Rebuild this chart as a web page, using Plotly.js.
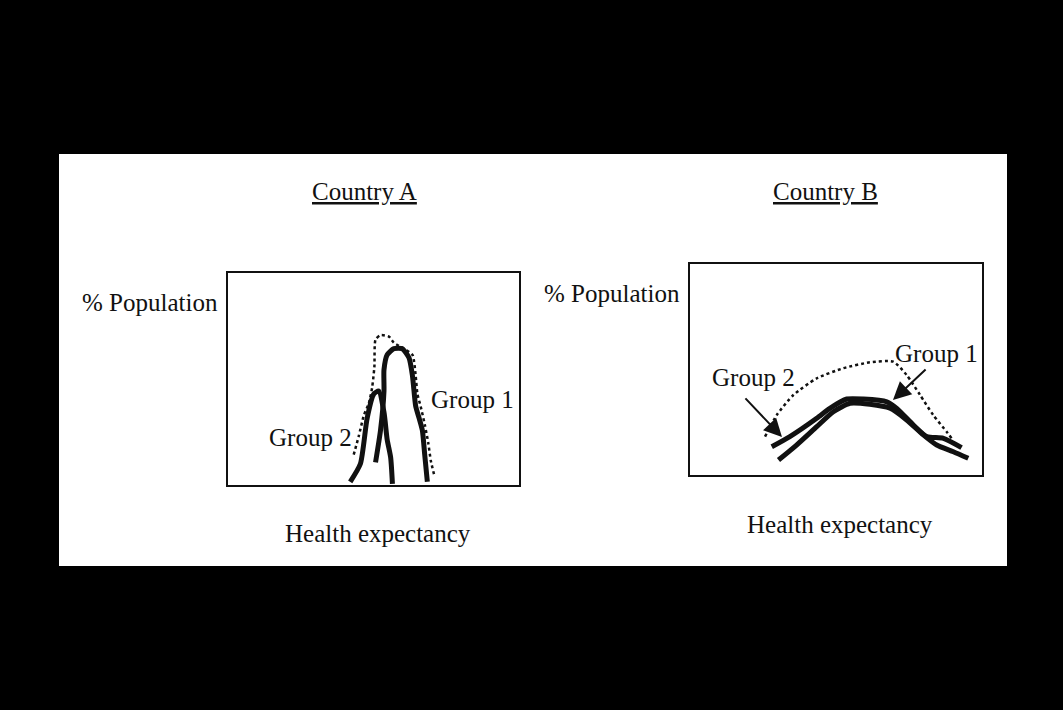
<!DOCTYPE html>
<html>
<head>
<meta charset="utf-8">
<script src="https://cdn.plot.ly/plotly-3.0.1.min.js"></script>
<style>html,body{margin:0;padding:0;background:#000;}#chart{width:1063px;height:710px;}</style>
</head>
<body>
<div id="chart"></div>
<script>
// Country A (x: health expectancy %, y: % population)
var aTotalX = [43.2, 44.9, 46.7, 48.4, 49.5, 50.3, 50.7, 52.4, 55.3, 57.0, 60.5, 63.4, 64.5, 65.1, 66.2, 67.6, 68.8, 69.7, 70.9];
var aTotalY = [14.3, 22.9, 32.9, 38.6, 45.7, 55.7, 68.6, 70.7, 70.0, 67.1, 64.3, 61.4, 51.4, 42.9, 37.1, 28.6, 20.0, 11.4, 4.5];
var aGroup1X = [50.7, 52.4, 53.6, 53.6, 54.7, 57.0, 59.9, 62.2, 63.4, 64.5, 65.7, 66.8, 67.6, 68.5];
var aGroup1Y = [10.7, 25.7, 44.3, 54.3, 61.4, 64.3, 64.3, 60.0, 51.4, 37.1, 31.4, 25.7, 14.3, 1.5];
var aGroup2X = [42.0, 45.5, 47.8, 50.1, 51.8, 53.6, 54.7, 55.9, 56.5];
var aGroup2Y = [1.5, 10.0, 31.4, 42.9, 44.3, 34.3, 21.4, 12.9, 0.5];

// Country B
var bTotalX = [25.7, 29.7, 35.4, 43.4, 52.5, 61.6, 69.6, 74.2, 78.8, 83.3, 87.9, 89.6];
var bTotalY = [18.2, 28.4, 37.9, 45.8, 50.6, 53.4, 53.7, 47.4, 37.9, 28.4, 20.5, 17.4];
var bGroup1X = [28.0, 34.2, 43.4, 47.9, 53.7, 59.4, 67.4, 70.8, 76.5, 81.1, 86.8, 93.0];
var bGroup1Y = [13.4, 18.2, 26.9, 31.6, 36.0, 36.0, 34.7, 31.6, 23.7, 18.2, 17.4, 13.0];
var bGroup2X = [30.3, 36.5, 43.4, 49.1, 54.8, 61.6, 68.5, 74.2, 79.9, 84.5, 90.2, 95.3];
var bGroup2Y = [7.1, 14.2, 22.9, 30.0, 34.0, 33.5, 31.6, 26.1, 19.0, 14.2, 11.0, 7.9];

var titles = ['Country A', 'Country B'];
var yLabel = '% Population';
var xLabel = 'Health expectancy';
var groupLabels = ['Group 1', 'Group 2'];

var W = 1063, H = 710;
function px(X) { return X / W; }
function py(Y) { return 1 - Y / H; }

var ink = '#111111';
function solid(x, y, xa, ya) {
  return {x: x, y: y, xaxis: xa, yaxis: ya, mode: 'lines', type: 'scatter',
    line: {color: ink, width: 5, shape: 'spline', smoothing: 0.6}, hoverinfo: 'skip', showlegend: false};
}
function dotted(x, y, xa, ya) {
  return {x: x, y: y, xaxis: xa, yaxis: ya, mode: 'lines', type: 'scatter',
    line: {color: ink, width: 2.5, dash: 'dot', shape: 'spline', smoothing: 0.6}, hoverinfo: 'skip', showlegend: false};
}

var data = [
  dotted(aTotalX, aTotalY, 'x', 'y'),
  solid(aGroup2X, aGroup2Y, 'x', 'y'),
  solid(aGroup1X, aGroup1Y, 'x', 'y'),
  dotted(bTotalX, bTotalY, 'x2', 'y2'),
  solid(bGroup1X, bGroup1Y, 'x2', 'y2'),
  solid(bGroup2X, bGroup2Y, 'x2', 'y2')
];

function axis(dom, anchor) {
  return {domain: dom, anchor: anchor, range: [0, 100], showline: true, mirror: true,
    linecolor: ink, linewidth: 2, showgrid: false, zeroline: false, showticklabels: false,
    ticks: '', fixedrange: true};
}

var font = {family: '"Liberation Serif", "Times New Roman", serif', size: 25, color: ink};
function txt(t, X, Y) {
  return {text: t, x: px(X), y: py(Y), xref: 'paper', yref: 'paper', showarrow: false,
    xanchor: 'center', yanchor: 'middle', font: font};
}

var annotations = [
  txt('<u>' + titles[0] + '</u>', 364, 192),
  txt('<u>' + titles[1] + '</u>', 825, 192),
  txt(yLabel, 150, 302),
  txt(yLabel, 612, 293),
  txt(xLabel, 378, 533),
  txt(xLabel, 840, 524),
  txt(groupLabels[0], 472, 399),
  txt(groupLabels[1], 310, 438),
  txt(groupLabels[0], 936, 353),
  txt(groupLabels[1], 753, 378),
  {x: 31.5, y: 18.0, ax: 18.5, ay: 37.0, xref: 'x2', yref: 'y2', axref: 'x2', ayref: 'y2',
   text: '', showarrow: true, arrowhead: 2, arrowsize: 1.8, arrowwidth: 2, arrowcolor: ink},
  {x: 69.5, y: 35.5, ax: 81.2, ay: 50.7, xref: 'x2', yref: 'y2', axref: 'x2', ayref: 'y2',
   text: '', showarrow: true, arrowhead: 2, arrowsize: 1.8, arrowwidth: 2, arrowcolor: ink}
];

var layout = {
  width: W, height: H,
  margin: {l: 0, r: 0, t: 0, b: 0, pad: 0},
  paper_bgcolor: '#000000',
  plot_bgcolor: '#ffffff',
  showlegend: false,
  xaxis: axis([px(228), px(519)], 'y'),
  yaxis: axis([py(485), py(273)], 'x'),
  xaxis2: axis([px(690), px(982)], 'y2'),
  yaxis2: axis([py(475), py(264)], 'x2'),
  shapes: [
    {type: 'rect', xref: 'paper', yref: 'paper', x0: px(59), x1: px(1007), y0: py(566), y1: py(154),
     fillcolor: '#ffffff', line: {width: 0}, layer: 'below'}
  ],
  annotations: annotations
};

Plotly.newPlot('chart', data, layout, {displayModeBar: false, staticPlot: true});
</script>
</body>
</html>
